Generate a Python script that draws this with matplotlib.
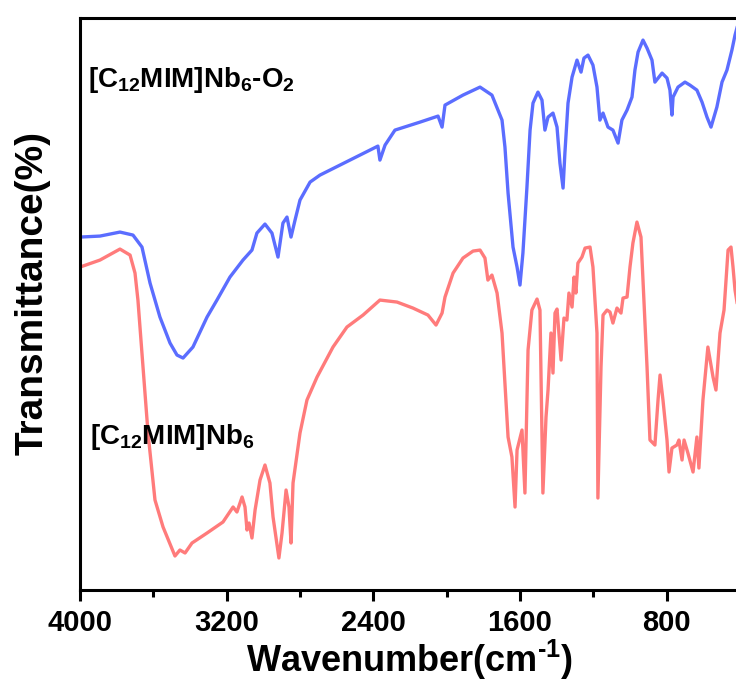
import matplotlib
matplotlib.use('Agg')
import matplotlib.pyplot as plt
from matplotlib.ticker import MultipleLocator

plt.rcParams['font.family'] = ['Liberation Sans', 'DejaVu Sans']
plt.rcParams['font.weight'] = 'bold'
plt.rcParams['mathtext.fontset'] = 'custom'
plt.rcParams['mathtext.rm'] = 'Liberation Sans:bold'
plt.rcParams['mathtext.bf'] = 'Liberation Sans:bold'
plt.rcParams['mathtext.default'] = 'bf'

# [C12MIM]Nb6-O2 (blue)
wn_o2 = [4000, 3891, 3782, 3711, 3662, 3618, 3564, 3509, 3471, 3438, 3384, 3307,
         3253, 3182, 3111, 3062, 3035, 2991, 2953, 2920, 2893, 2871, 2849, 2827,
         2800, 2745, 2691, 2582, 2473, 2375, 2364, 2336, 2282, 2145, 2047, 2025,
         2009, 1911, 1818, 1753, 1720, 1698, 1682, 1665, 1638, 1616, 1600, 1584,
         1562, 1545, 1529, 1502, 1480, 1464, 1447, 1420, 1398, 1382, 1365, 1355,
         1338, 1316, 1289, 1267, 1251, 1229, 1202, 1180, 1164, 1147, 1120, 1093,
         1065, 1044, 1016, 989, 973, 956, 929, 907, 880, 864, 825, 798, 782, 771,
         765, 738, 700, 673, 635, 607, 580, 558, 526, 498, 471, 444, 427, 405]
t_o2 = [70.6, 70.8, 71.6, 71.0, 68.6, 61.4, 54.6, 49.4, 47.0, 46.4, 48.6, 54.6,
        58.0, 62.6, 66.0, 68.0, 71.4, 73.2, 71.4, 66.6, 73.4, 74.6, 70.6, 74.0,
        78.0, 81.6, 83.0, 85.0, 87.0, 88.8, 86.0, 89.0, 92.0, 93.6, 94.8, 92.6,
        97.0, 99.0, 100.6, 99.0, 96.0, 94.0, 88.6, 79.4, 68.6, 64.6, 61.0, 67.4,
        80.6, 92.0, 97.4, 99.6, 98.0, 92.0, 94.6, 95.4, 92.6, 85.4, 80.4, 87.4,
        97.4, 102.6, 106.0, 103.6, 106.4, 107.0, 105.0, 100.6, 94.0, 95.4, 92.6, 92.0,
        89.4, 94.0, 96.0, 98.6, 104.0, 107.6, 110.0, 108.4, 106.0, 101.6, 103.4, 102.4, 100.0, 95.0,
        98.6, 100.6, 101.6, 101.0, 100.0, 97.6, 94.6, 92.6, 96.6, 101.6, 104.0, 108.0, 111.0, 114.0]

# [C12MIM]Nb6 (red)
wn_nb6 = [4000, 3891, 3782, 3727, 3700, 3684, 3656, 3629, 3591, 3547, 3482, 3455,
          3427, 3389, 3307, 3220, 3165, 3144, 3116, 3100, 3089, 3078, 3062, 3045,
          3018, 2991, 2964, 2947, 2915, 2898, 2876, 2860, 2849, 2838, 2800, 2762,
          2707, 2620, 2544, 2456, 2364, 2271, 2184, 2102, 2058, 2025, 2009, 1965,
          1911, 1856, 1818, 1791, 1775, 1753, 1725, 1698, 1682, 1665, 1644, 1627,
          1616, 1589, 1573, 1556, 1535, 1507, 1491, 1475, 1458, 1447, 1431, 1420,
          1409, 1398, 1376, 1360, 1344, 1333, 1316, 1305, 1295, 1284, 1262, 1245,
          1218, 1202, 1180, 1175, 1158, 1147, 1125, 1109, 1093, 1071, 1049, 1038,
          1016, 1000, 984, 962, 940, 924, 907, 891, 864, 847, 836, 820, 798, 787,
          771, 744, 733, 716, 705, 684, 656, 635, 624, 602, 575, 547, 531, 509,
          487, 465, 449, 438, 427, 405]
t_nb6 = [64.6, 66.0, 68.2, 67.0, 63.4, 58.0, 44.6, 31.4, 18.0, 12.6, 6.8, 8.0,
         7.4, 9.4, 11.4, 13.6, 16.6, 15.6, 18.6, 16.6, 12.0, 13.4, 10.4, 16.0,
         22.0, 25.0, 21.4, 14.6, 6.4, 11.4, 20.0, 16.6, 9.4, 21.4, 31.4, 38.0,
         42.6, 48.6, 52.6, 55.0, 58.0, 57.6, 56.4, 55.0, 53.0, 55.4, 58.6, 63.4,
         66.4, 67.8, 68.0, 66.4, 62.0, 63.0, 59.4, 51.4, 41.4, 30.6, 26.6, 16.6,
         28.0, 32.0, 19.4, 48.0, 56.0, 58.2, 56.0, 19.4, 34.6, 40.0, 51.4, 43.4,
         55.4, 56.2, 46.0, 54.4, 54.0, 59.4, 56.6, 62.6, 59.4, 65.4, 66.6, 68.4,
         68.6, 64.6, 51.4, 18.4, 44.6, 55.0, 56.0, 55.6, 53.4, 56.4, 55.4, 58.4,
         58.6, 64.6, 69.4, 73.6, 70.6, 58.0, 44.6, 30.0, 29.0, 38.0, 43.0, 38.0, 30.0, 23.6,
         28.4, 29.0, 30.0, 26.0, 30.0, 27.4, 23.6, 30.6, 24.4, 38.0, 48.6, 42.6, 40.0, 51.4,
         56.0, 68.0, 68.6, 64.6, 60.0, 55.0]

fig = plt.figure(figsize=(7.36, 6.89), dpi=100)
ax = fig.add_axes([0.1087, 0.1437, 0.8967, 0.830])

ax.plot(wn_o2, t_o2, color='#5b6dff', lw=2.4)
ax.plot(wn_nb6, t_nb6, color='#ff7b7b', lw=2.4)

ax.set_xlim(4000, 400)
ax.set_ylim(0, 114.4)
ax.xaxis.set_major_locator(MultipleLocator(800))
ax.xaxis.set_minor_locator(MultipleLocator(400))
ax.set_yticks([])
ax.tick_params(axis='x', which='major', direction='out', length=8, width=2.2,
               labelsize=21, pad=6)
ax.tick_params(axis='x', which='minor', direction='out', length=5, width=2.2)
for lab in ax.get_xticklabels():
    lab.set_fontweight('bold')
for s in ax.spines.values():
    s.set_linewidth(2.2)

ax.set_xlabel(r'Wavenumber(cm$^{\text{-}1}$)', fontsize=26, fontweight='bold', labelpad=0)
ax.set_ylabel('Transmittance(%)', fontsize=28, fontweight='bold')
ax.yaxis.set_label_coords(-0.044, 0.52)

ax.text(3956, 102, '[C$_{12}$MIM]Nb$_6$-O$_2$', fontsize=20, fontweight='bold',
        va='center', ha='left')
ax.text(3945, 30.6, '[C$_{12}$MIM]Nb$_6$', fontsize=20, fontweight='bold',
        va='center', ha='left')

fig.savefig('out.png', dpi=100)
